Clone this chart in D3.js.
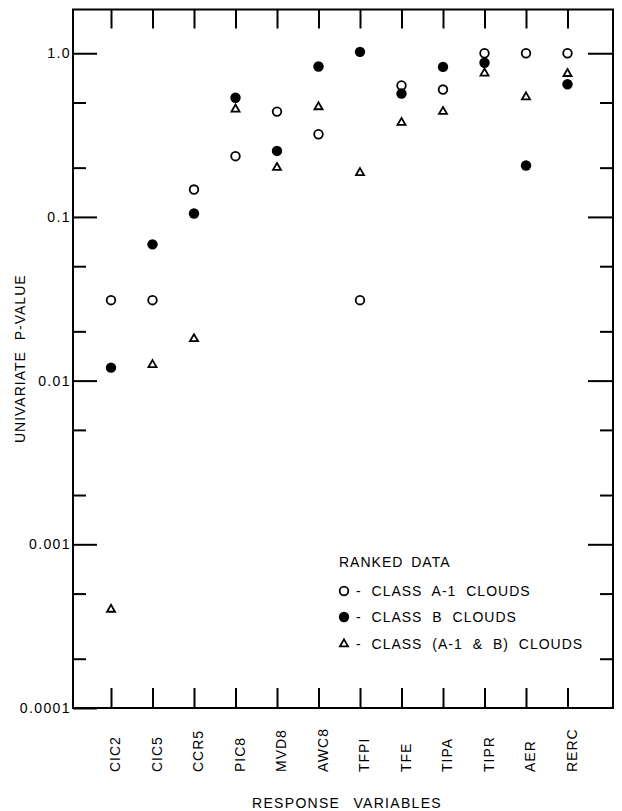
<!DOCTYPE html>
<html>
<head>
<meta charset="utf-8">
<script src="https://cdn.jsdelivr.net/npm/d3@7"></script>
<style>
  body { margin: 0; background: #fff; }
  svg text { font-family: "Liberation Sans", Arial, sans-serif; fill: #000; }
</style>
</head>
<body>
<div class="container"></div>
<script>
// Response variables along the bottom
var categories = ["CIC2", "CIC5", "CCR5", "PIC8", "MVD8", "AWC8", "TFPI", "TFE", "TIPA", "TIPR", "AER", "RERC"];

// Univariate p-values
var classA1 = [0.031, 0.031, 0.147, 0.235, 0.44, 0.32, 0.031, 0.635, 0.60, 1.0, 1.0, 1.0];
var classB = [0.012, 0.068, 0.105, 0.535, 0.253, 0.83, 1.02, 0.567, 0.825, 0.875, 0.206, 0.646];
var classA1B = [0.0004, 0.0125, 0.018, 0.455, 0.20, 0.47, 0.186, 0.377, 0.44, 0.755, 0.54, 0.75];

var majorTicks = [1, 0.1, 0.01, 0.001, 0.0001];
var majorLabels = ["1.0", "0.1", "0.01", "0.001", "0.0001"];
var minorTicks = [0.5, 0.2, 0.05, 0.02, 0.005, 0.002, 0.0005, 0.0002];

var width = 622,
    height = 811;

var svg = d3.select('.container')
    .append('svg')
    .attr('width', width)
    .attr('height', height);

// plot box (window.top is taken, so prefixed names)
var pLeft = 73, pRight = 613, pTop = 9.5, pBottom = 708;

var x = d3.scalePoint()
    .domain(categories)
    .range([111, 567.5]);

var y = d3.scaleLog()
    .domain([0.0001, 1.85])
    .range([pBottom, pTop]);

// Frame
svg.append('rect')
    .attr('x', pLeft)
    .attr('y', pTop)
    .attr('width', pRight - pLeft)
    .attr('height', pBottom - pTop)
    .attr('fill', 'none')
    .attr('stroke', '#000')
    .attr('stroke-width', 2);

function styleAxis(g) {
    g.select('.domain').remove();
    g.selectAll('.tick line').attr('stroke', '#000').attr('stroke-width', 2);
}

// Left axis, major ticks with labels
svg.append('g')
    .attr('transform', 'translate(' + pLeft + ',0)')
    .call(d3.axisLeft(y)
        .tickValues(majorTicks)
        .tickFormat(function(d, i) { return majorLabels[i]; })
        .tickSizeInner(-24)
        .tickSizeOuter(0)
        .tickPadding(2))
    .call(styleAxis)
    .selectAll('text')
    .attr('font-size', 14)
    .attr('font-family', '"Liberation Sans", Arial, sans-serif')
    .attr('letter-spacing', 1.4)
    .attr('fill', '#000');

// Left axis, minor ticks
svg.append('g')
    .attr('transform', 'translate(' + pLeft + ',0)')
    .call(d3.axisLeft(y).tickValues(minorTicks).tickFormat('').tickSizeInner(-13).tickSizeOuter(0))
    .call(styleAxis);

// Right axis
svg.append('g')
    .attr('transform', 'translate(' + pRight + ',0)')
    .call(d3.axisRight(y).tickValues(majorTicks.slice(0, 4)).tickFormat('').tickSizeInner(-25).tickSizeOuter(0))
    .call(styleAxis);

svg.append('g')
    .attr('transform', 'translate(' + pRight + ',0)')
    .call(d3.axisRight(y).tickValues(minorTicks).tickFormat('').tickSizeInner(-13).tickSizeOuter(0))
    .call(styleAxis);

// Top axis ticks
svg.append('g')
    .attr('transform', 'translate(0,' + pTop + ')')
    .call(d3.axisTop(x).tickFormat('').tickSizeInner(-19).tickSizeOuter(0))
    .call(styleAxis);

// Bottom axis with rotated labels
svg.append('g')
    .attr('transform', 'translate(0,' + pBottom + ')')
    .call(d3.axisBottom(x).tickSizeInner(-20).tickSizeOuter(0))
    .call(styleAxis)
    .selectAll('text')
    .attr('transform', 'rotate(-90)')
    .attr('text-anchor', 'start')
    .attr('x', -64)
    .attr('y', 4)
    .attr('dy', '0.35em')
    .attr('font-size', 14)
    .attr('font-family', '"Liberation Sans", Arial, sans-serif')
    .attr('letter-spacing', 1)
    .attr('fill', '#000');

// Axis titles
svg.append('text')
    .attr('transform', 'translate(25,' + ((pTop + pBottom) / 2) + ') rotate(-90)')
    .attr('text-anchor', 'middle')
    .attr('font-size', 14)
    .attr('letter-spacing', 1)
    .attr('word-spacing', 6)
    .text('UNIVARIATE P-VALUE');

svg.append('text')
    .attr('x', 347)
    .attr('y', 808)
    .attr('text-anchor', 'middle')
    .attr('font-size', 14)
    .attr('letter-spacing', 1.3)
    .attr('word-spacing', 8)
    .text('RESPONSE VARIABLES');

// Markers
var tri = d3.symbol().type(d3.symbolTriangle).size(28);

svg.append('g').selectAll('circle')
    .data(classA1)
    .enter()
    .append('circle')
    .attr('cx', function(d, i) { return x(categories[i]); })
    .attr('cy', function(d) { return y(d); })
    .attr('r', 4.3)
    .attr('fill', 'none')
    .attr('stroke', '#000')
    .attr('stroke-width', 1.8);

svg.append('g').selectAll('circle')
    .data(classB)
    .enter()
    .append('circle')
    .attr('cx', function(d, i) { return x(categories[i]); })
    .attr('cy', function(d) { return y(d); })
    .attr('r', 5.2)
    .attr('fill', '#000');

svg.append('g').selectAll('path')
    .data(classA1B)
    .enter()
    .append('path')
    .attr('d', tri)
    .attr('transform', function(d, i) { return 'translate(' + x(categories[i]) + ',' + y(d) + ')'; })
    .attr('fill', 'none')
    .attr('stroke', '#000')
    .attr('stroke-width', 1.8);

// Legend
var legend = svg.append('g').attr('transform', 'translate(339,567)');

legend.append('text')
    .attr('font-size', 14)
    .attr('letter-spacing', 1)
    .attr('word-spacing', 3)
    .text('RANKED DATA');

var rows = ['- CLASS A-1 CLOUDS', '- CLASS B CLOUDS', '- CLASS (A-1 & B) CLOUDS'];
var rowY = [29, 55, 82];

rows.forEach(function(label, i) {
    var g = legend.append('g').attr('transform', 'translate(0,' + rowY[i] + ')');
    if (i === 0) {
        g.append('circle').attr('cx', 5).attr('cy', -5).attr('r', 4.3)
            .attr('fill', 'none').attr('stroke', '#000').attr('stroke-width', 1.8);
    } else if (i === 1) {
        g.append('circle').attr('cx', 5).attr('cy', -5).attr('r', 5.2).attr('fill', '#000');
    } else {
        g.append('path').attr('d', tri).attr('transform', 'translate(5,-5)')
            .attr('fill', 'none').attr('stroke', '#000').attr('stroke-width', 1.8);
    }
    g.append('text')
        .attr('x', 17)
        .attr('font-size', 14)
        .attr('letter-spacing', 1)
        .attr('word-spacing', 5)
        .text(label);
});
</script>
</body>
</html>
